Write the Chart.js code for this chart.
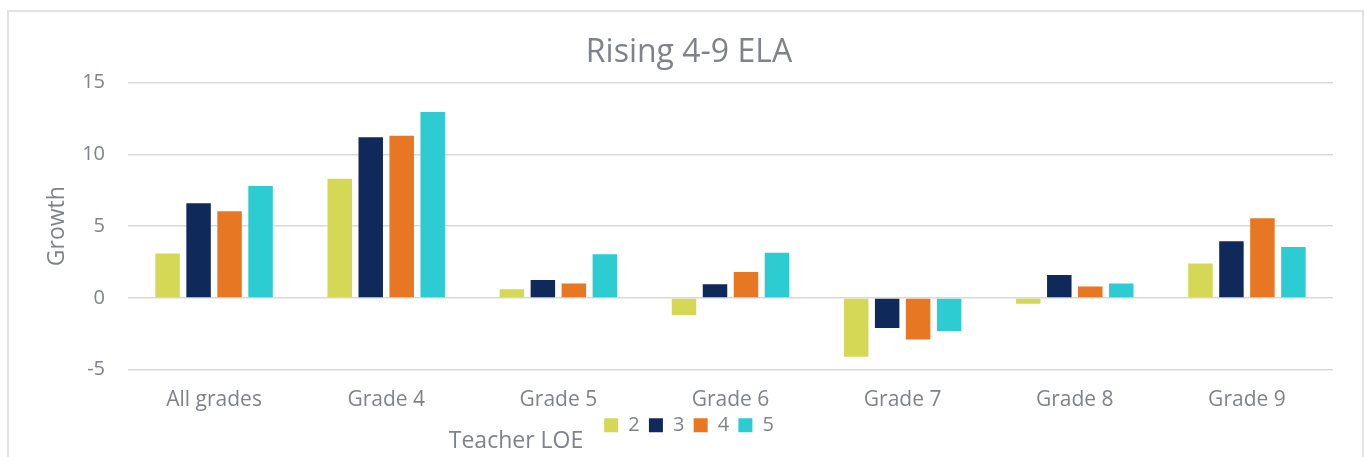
<!DOCTYPE html>
<html>
<head>
<meta charset="utf-8">
<title>Rising 4-9 ELA</title>
<script src="https://cdn.jsdelivr.net/npm/chart.js@4/dist/chart.umd.min.js"></script>
<style>
  html, body { margin: 0; padding: 0; background: #fff; overflow: hidden; }
  .frame {
    position: absolute; left: 7px; top: 10px; width: 1353px; height: 470px;
    border: 2px solid #e2e2e2; border-bottom: none;
  }
  #chart { position: absolute; left: 0; top: 0; }
</style>
</head>
<body>
<div class="frame"></div>
<canvas id="chart" width="1364" height="457"></canvas>
<script>
// values
const CATEGORIES = ["All grades", "Grade 4", "Grade 5", "Grade 6", "Grade 7", "Grade 8", "Grade 9"];
const LOE_2 = [3.1, 8.3, 0.6, -1.2, -4.1, -0.4, 2.4];
const LOE_3 = [6.6, 11.2, 1.25, 0.95, -2.1, 1.6, 3.95];
const LOE_4 = [6.05, 11.3, 1.0, 1.8, -2.9, 0.8, 5.55];
const LOE_5 = [7.8, 12.95, 3.05, 3.15, -2.3, 1.0, 3.55];
const SERIES_LABELS = ["2", "3", "4", "5"];
const Y_TICKS = [-5, 0, 5, 10, 15];

const COLORS = ["#d4d855", "#0f2a5a", "#e77722", "#2dcbd2"];
const TEXT = "#7f8389";
const GRID = "#d9d9d9";

Chart.defaults.font.family = '"Open Sans", sans-serif';
Chart.defaults.color = TEXT;

// x axis title sits under the legend, left of centre, so draw it here
const xTitlePlugin = {
  id: "xTitle",
  afterDraw(chart) {
    const ctx = chart.ctx;
    ctx.save();
    ctx.font = '23px "Open Sans", sans-serif';
    ctx.fillStyle = TEXT;
    ctx.textAlign = "center";
    ctx.textBaseline = "alphabetic";
    ctx.fillText("Teacher LOE", 516, 448);
    ctx.restore();
  }
};

const seriesData = [LOE_2, LOE_3, LOE_4, LOE_5];

new Chart(document.getElementById("chart"), {
  type: "bar",
  data: {
    labels: CATEGORIES,
    datasets: seriesData.map((d, i) => ({
      label: SERIES_LABELS[i],
      data: d,
      backgroundColor: COLORS[i],
      borderWidth: 0,
      categoryPercentage: 0.72,
      barPercentage: 0.79,
    })),
  },
  options: {
    responsive: false,
    animation: false,
    layout: { padding: { left: 45, right: 31, top: 0, bottom: 11.7 } },
    plugins: {
      title: {
        display: true,
        text: "Rising 4-9 ELA",
        color: TEXT,
        font: { size: 32, weight: "normal" },
        padding: { top: 33.4, bottom: 10.9 },
      },
      legend: {
        position: "bottom",
        labels: {
          boxWidth: 14,
          boxHeight: 14,
          padding: 9.3,
          color: TEXT,
          font: { size: 20 },
        },
      },
      tooltip: { enabled: false },
    },
    scales: {
      x: {
        grid: { display: false, drawTicks: false },
        border: { display: false },
        ticks: { padding: 17.6, font: { size: 21 }, color: TEXT },
        afterFit(scale) {
          scale.height = 36.3;
          // legend sits tight under the labels; don't clip the descenders
          scale._computeLabelArea = () => undefined;
        },
      },
      y: {
        min: Y_TICKS[0],
        max: Y_TICKS[Y_TICKS.length - 1],
        afterBuildTicks(scale) { scale.ticks = Y_TICKS.map(v => ({ value: v })); },
        grid: { color: GRID, lineWidth: 1.5, drawTicks: false },
        border: { display: false },
        ticks: { padding: 23, font: { size: 20 }, color: TEXT },
        title: {
          display: true,
          text: "Growth",
          color: TEXT,
          font: { size: 23 },
          padding: { top: -1, bottom: 0 },
        },
        afterFit(scale) { scale.width = 83; },
      },
    },
  },
  plugins: [xTitlePlugin],
});
</script>
</body>
</html>
